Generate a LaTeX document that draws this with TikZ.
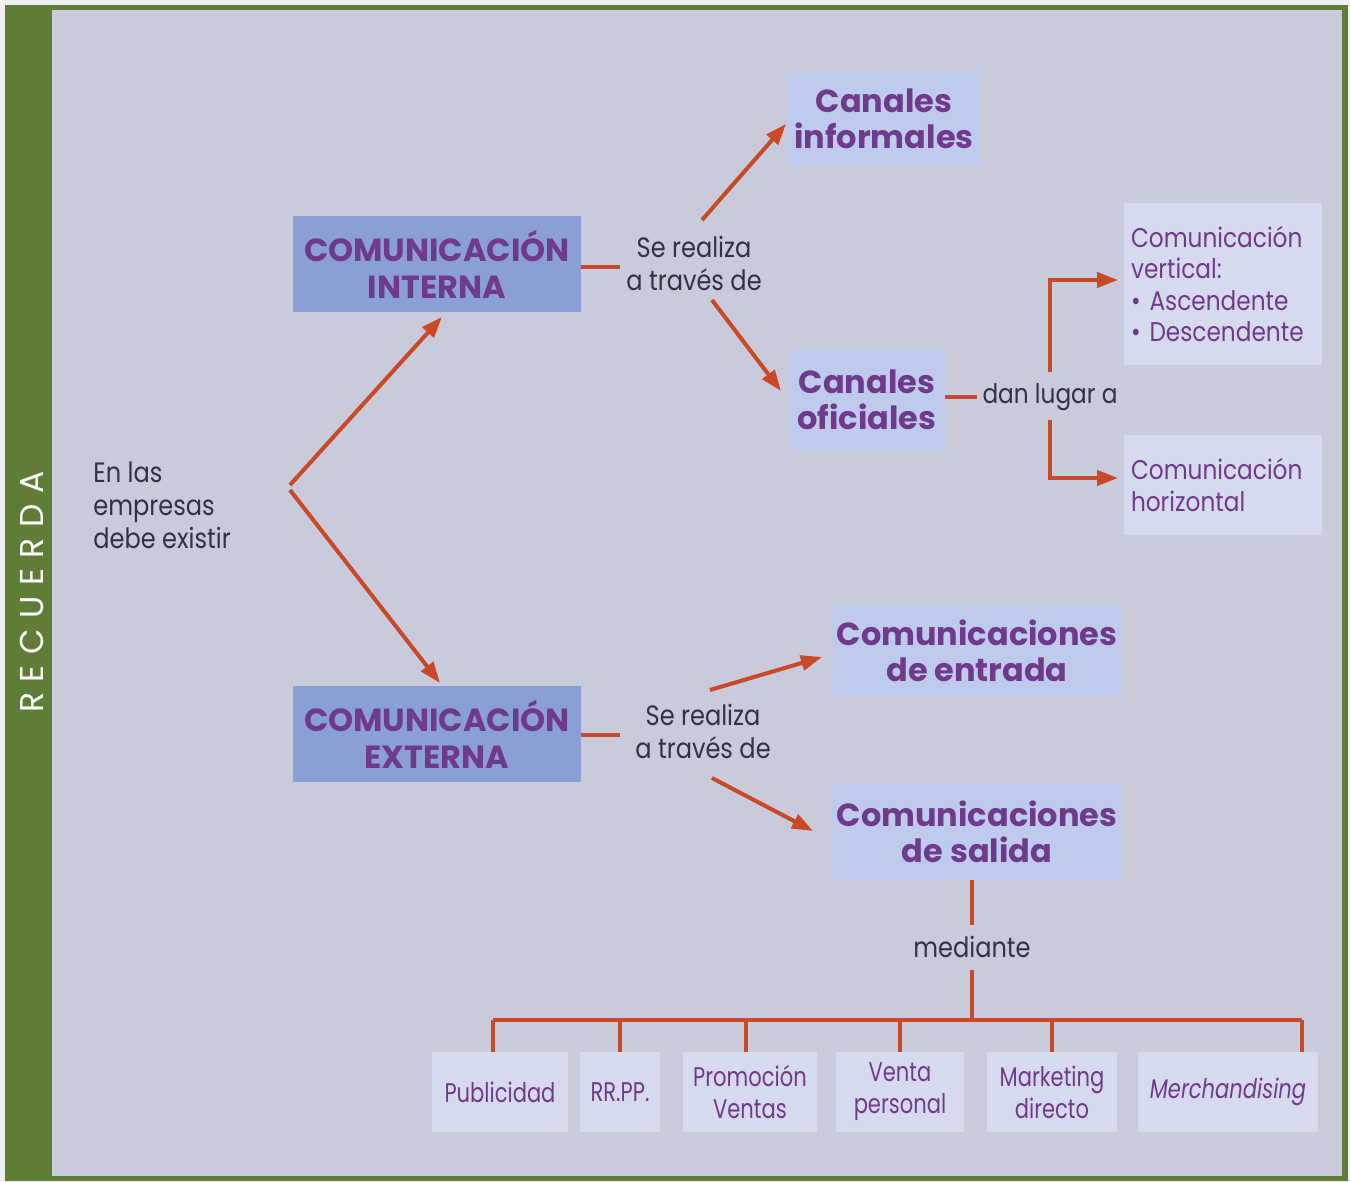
\documentclass[tikz,border=0pt]{standalone}
\usepackage{fontspec}
\setmainfont{Poppins}
\newfontfamily\bodyfont[FakeStretch=0.86]{Poppins}
\newfontfamily\condfont[FakeStretch=0.78]{Poppins}
\newfontfamily\spacedfont[LetterSpace=32]{Poppins}
\usetikzlibrary{arrows.meta}
\definecolor{pagewhite}{RGB}{240,240,240}
\definecolor{frame}{RGB}{96,125,56}
\definecolor{bg}{RGB}{201,203,218}
\definecolor{boxdark}{RGB}{138,160,212}
\definecolor{boxlight}{RGB}{190,203,236}
\definecolor{boxpale}{RGB}{214,218,238}
\definecolor{purp}{RGB}{112,58,140}
\definecolor{arrred}{RGB}{200,72,40}
\definecolor{txt}{RGB}{50,50,64}
\tikzset{
  darkbox/.style={fill=boxdark, inner sep=0pt, minimum width=144pt, minimum height=48pt,
    text=purp, align=center, font=\bfseries\fontsize{16}{18.5}\selectfont},
  lightbox/.style={fill=boxlight, inner sep=0pt, text=purp, align=center,
    font=\bfseries\fontsize{16}{18.2}\selectfont},
  palebox/.style={fill=boxpale, inner sep=0pt, text=purp},
  lbl/.style={text=txt, inner sep=1pt, font=\bodyfont\fontsize{14}{16.5}\selectfont},
  botbox/.style={palebox, minimum height=40pt, align=center,
    font=\condfont\fontsize{13.5}{16}\selectfont},
  arr/.style={draw=arrred, line width=2pt, -{Triangle[length=10.5pt,width=7.5pt]}},
  conn/.style={draw=arrred, line width=2pt},
}
\begin{document}
\begin{tikzpicture}[x=0.5pt,y=-0.5pt]
% page and frame
\fill[pagewhite] (0,0) rectangle (1350,1182);
\fill[frame] (5,5) rectangle (1348,1181);
\fill[bg] (52,10) rectangle (1342,1176);
\node[text=white, rotate=90, inner sep=0pt, font=\spacedfont\fontsize{16.5}{16.5}\selectfont] (rec) at (32,592) {RECUERDA};

% main boxes
\node[darkbox] (interna) at (437,264) {COMUNICACIÓN\\INTERNA};
\node[darkbox] (externa) at (437,734) {COMUNICACIÓN\\EXTERNA};
\node[lightbox, minimum width=96pt, minimum height=46pt] (informales) at (884,119) {Canales\\informales};
\node[lightbox, minimum width=78pt, minimum height=50pt] (oficiales) at (867,400) {Canales\\oficiales};
\node[lightbox, minimum width=145pt, minimum height=46pt] (entrada) at (977,651) {Comunicaciones\\de entrada};
\node[lightbox, minimum width=145pt, minimum height=48pt] (salida) at (977,832) {Comunicaciones\\de salida};

% right pale boxes
\node[palebox, minimum width=99pt, minimum height=81pt, align=left, text width=92pt,
  font=\bodyfont\fontsize{13.5}{15.8}\selectfont] (vertical) at (1223,284)
  {Comunicación\\vertical:\\\textbullet\ Ascendente\\\textbullet\ Descendente};
\node[palebox, minimum width=99pt, minimum height=50pt, align=left, text width=92pt,
  font=\bodyfont\fontsize{13.5}{15.8}\selectfont] (horizontal) at (1223,485)
  {Comunicación\\horizontal};

% labels
\node[lbl, align=left, anchor=west] (enlas) at (91,505) {En las\\empresas\\debe existir};
\node[lbl, align=center] (se1) at (694,263) {Se realiza\\a través de};
\node[lbl, align=center] (se2) at (703,731) {Se realiza\\a través de};
\node[lbl, font=\bodyfont\fontsize{13.5}{16}\selectfont] (dan) at (1050,397) {dan lugar a};
\node[lbl] (mediante) at (972,947) {mediante};

% bottom boxes
\node[botbox, minimum width=68pt] (pub) at (500,1092) {Publicidad};
\node[botbox, minimum width=40pt] (rrpp) at (620,1092) {RR.PP.};
\node[botbox, minimum width=67pt] (prom) at (750,1092) {Promoción\\Ventas};
\node[botbox, minimum width=64pt] (venta) at (900,1092) {Venta\\personal};
\node[botbox, minimum width=65pt] (mkt) at (1052,1092) {Marketing\\directo};
\node[botbox, minimum width=90pt, font=\condfont\itshape\fontsize{13.5}{16}\selectfont] (merch) at (1228,1092) {Merchandising};

% coordinates for free ends
\coordinate (t0a) at (290,485);
\coordinate (h0a) at (442,317);
\coordinate (t0b) at (290,490);
\coordinate (h0b) at (440,683);
\coordinate (t1) at (702,220);
\coordinate (h1) at (786,124);
\coordinate (t2) at (712,300);
\coordinate (h2) at (781,391);
\coordinate (t3) at (710,690);
\coordinate (h3) at (822,657);
\coordinate (t4) at (712,778);
\coordinate (h4) at (813,831);
\coordinate (bup) at (1050,372);
\coordinate (bupt) at (1118,280);
\coordinate (bdn) at (1050,420);
\coordinate (bdnt) at (1118,478);
\coordinate (bus) at (972,1020);
\coordinate (busL) at (493,1020);
\coordinate (busR) at (1302,1020);
\coordinate (medtop) at (972,925);
\coordinate (medbot) at (972,970);

% connectors
\draw[arr] (t0a) -- (h0a);
\draw[arr] (t0b) -- (h0b);
\draw[conn] (interna.east |- 0,267) -- (620,267);
\draw[conn] (externa.east |- 0,735) -- (620,735);
\draw[arr] (t1) -- (h1);
\draw[arr] (t2) -- (h2);
\draw[arr] (t3) -- (h3);
\draw[arr] (t4) -- (h4);
\draw[conn] (oficiales.east |- 0,397) -- (977,397);
\draw[arr] (bup) |- (bupt);
\draw[arr] (bdn) |- (bdnt);
\draw[conn] (medtop |- salida.south) -- (medtop);
\draw[conn] (medbot) -- (bus);
\draw[conn] (busL) -- (busR);
\draw[conn] (busL) -- (busL |- pub.north);
\draw[conn] (rrpp.north |- bus) -- (rrpp.north);
\draw[conn] (746,1020) -- (746,1052);
\draw[conn] (venta.north |- bus) -- (venta.north);
\draw[conn] (mkt.north |- bus) -- (mkt.north);
\draw[conn] (busR) -- (busR |- merch.north);
\end{tikzpicture}
\end{document}
